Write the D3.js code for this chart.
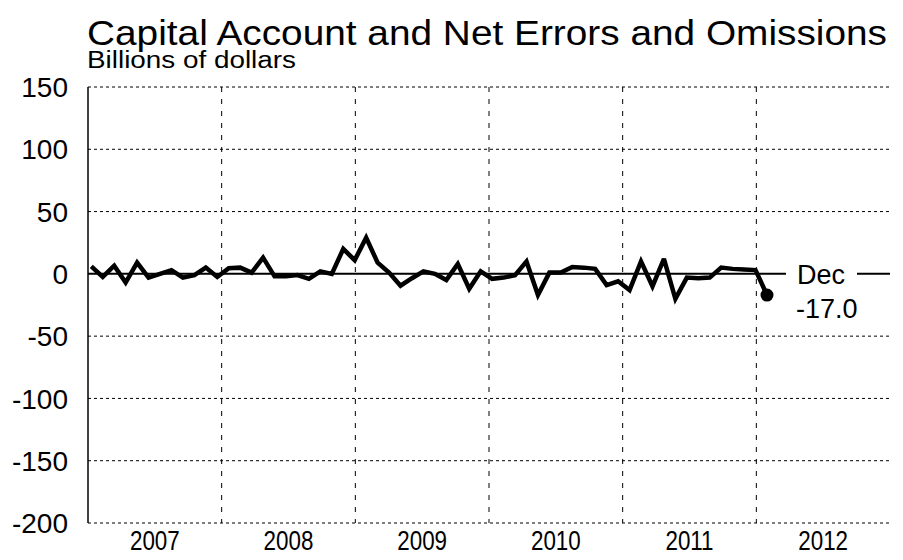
<!DOCTYPE html>
<html>
<head>
<meta charset="utf-8">
<script src="https://cdn.jsdelivr.net/npm/d3@7"></script>
<style>
  html, body { margin: 0; padding: 0; background: #fff; }
  svg { display: block; font-family: "Liberation Sans", Arial, sans-serif; }
</style>
</head>
<body>
<svg id="chart" width="903" height="560"></svg>
<script>
// Monthly capital account plus net errors and omissions, Jan 2007 – Dec 2011 (billions of dollars)
const values2007 = [6, -2.5, 6.5, -7, 9, -3, 0, 3, -3, -1, 5, -2.5];
const values2008 = [4.5, 5, 1, 13, -2, -2, -1, -4, 2, 0, 20, 11];
const values2009 = [29, 9, 1, -9.5, -3.5, 2, 0, -5, 8, -12, 2, -4];
const values2010 = [-3, -1, 10, -17, 1, 1, 5.5, 5, 4, -9, -6, -13];
const values2011 = [10, -10, 12, -20, -3, -3.5, -3, 5, 4, 3.5, 3, -17.0];
const series = [...values2007, ...values2008, ...values2009, ...values2010, ...values2011];

const yearLabels = ["2007", "2008", "2009", "2010", "2011", "2012"];
const yTicks = [150, 100, 50, 0, -50, -100, -150, -200];
const lastLabel = ["Dec", "-17.0"];

const svg = d3.select("#chart");
const plotLeft = 88, plotRight = 890, plotTop = 87, plotBottom = 523;

const y = d3.scaleLinear().domain([-200, 150]).range([plotBottom, plotTop]);
const xYear = d3.scaleLinear().domain([2007, 2013]).range([plotLeft, plotRight]);
const xMonth = d3.scaleLinear().domain([0, series.length - 1]).range([91.3, 767]);

// Title and unit
svg.append("text").attr("x", 87).attr("y", 45)
  .attr("font-size", 35).attr("fill", "#000")
  .attr("textLength", 800).attr("lengthAdjust", "spacingAndGlyphs")
  .text("Capital Account and Net Errors and Omissions");
svg.append("text").attr("x", 87).attr("y", 68)
  .attr("font-size", 23).attr("fill", "#000")
  .attr("textLength", 209).attr("lengthAdjust", "spacingAndGlyphs")
  .text("Billions of dollars");

// Horizontal dotted gridlines
svg.append("g").selectAll("line").data(yTicks.filter(v => v !== 0)).join("line")
  .attr("x1", plotLeft).attr("x2", plotRight)
  .attr("y1", d => y(d)).attr("y2", d => y(d))
  .attr("stroke", "#000").attr("stroke-width", 1)
  .attr("stroke-dasharray", "3,3");

// Vertical dashed year separators
svg.append("g").selectAll("line").data(d3.range(2008, 2013)).join("line")
  .attr("x1", d => xYear(d)).attr("x2", d => xYear(d))
  .attr("y1", plotTop).attr("y2", plotBottom)
  .attr("stroke", "#000").attr("stroke-width", 1)
  .attr("stroke-dasharray", "5,7");

// Left axis line
svg.append("line").attr("x1", plotLeft).attr("x2", plotLeft).attr("y1", plotTop).attr("y2", plotBottom)
  .attr("stroke", "#000").attr("stroke-width", 1.5);

// Zero line
svg.append("line").attr("x1", plotLeft).attr("x2", plotRight).attr("y1", y(0)).attr("y2", y(0))
  .attr("stroke", "#000").attr("stroke-width", 2);

// Y tick labels
svg.append("g").selectAll("text").data(yTicks).join("text")
  .attr("x", 68).attr("y", d => y(d)).attr("dy", "0.36em")
  .attr("text-anchor", "end").attr("font-size", 28)
  .text(d => d);

// Year labels, centred in each year band
svg.append("g").selectAll("text").data(yearLabels).join("text")
  .attr("transform", d => `translate(${xYear(+d + 0.5)},${plotBottom + 27}) scale(0.8,1)`)
  .attr("text-anchor", "middle").attr("font-size", 28)
  .text(d => d);

// Data line
const line = d3.line().x((d, i) => xMonth(i)).y(d => y(d)).curve(d3.curveLinear);
svg.append("path").datum(series)
  .attr("d", line).attr("fill", "none")
  .attr("stroke", "#000").attr("stroke-width", 4.5)
  .attr("stroke-linejoin", "miter").attr("stroke-miterlimit", 3);

// Latest point marker
const lastIdx = series.length - 1;
svg.append("circle").attr("cx", xMonth(lastIdx)).attr("cy", y(series[lastIdx]))
  .attr("r", 6.5).attr("fill", "#000");

// Latest value label with white backing over the zero line
const lx = 797;
svg.append("rect").attr("x", lx - 11).attr("y", y(0) - 8).attr("width", 71).attr("height", 16)
  .attr("fill", "#fff");
svg.append("text").attr("x", lx).attr("y", y(0)).attr("dy", "0.36em")
  .attr("font-size", 27).text(lastLabel[0]);
svg.append("text").attr("x", lx - 1).attr("y", y(0) + 34).attr("dy", "0.36em")
  .attr("font-size", 27).text(lastLabel[1]);
</script>
</body>
</html>
